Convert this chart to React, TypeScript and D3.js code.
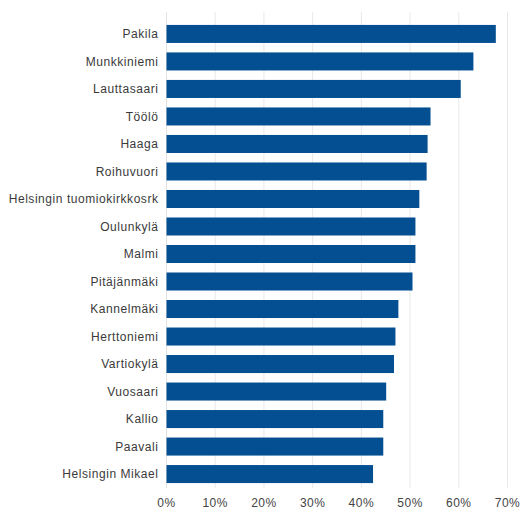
import { useEffect, useRef } from 'react'
import * as d3 from 'd3'

const categories = [
  'Pakila', 'Munkkiniemi', 'Lauttasaari', 'Töölö', 'Haaga', 'Roihuvuori',
  'Helsingin tuomiokirkkosrk', 'Oulunkylä', 'Malmi', 'Pitäjänmäki', 'Kannelmäki',
  'Herttoniemi', 'Vartiokylä', 'Vuosaari', 'Kallio', 'Paavali', 'Helsingin Mikael',
]
const values = [67.6, 63.0, 60.4, 54.2, 53.6, 53.4, 51.9, 51.1, 51.1, 50.5, 47.6, 47.0, 46.7, 45.1, 44.5, 44.5, 42.4]
const ticks = [0, 10, 20, 30, 40, 50, 60, 70]

const W = 529
const H = 525
const FONT = "'Liberation Sans', Arial, sans-serif"

export default function App() {
  const ref = useRef<SVGSVGElement>(null)

  useEffect(() => {
    if (!ref.current) return
    const svg = d3.select(ref.current)
    svg.selectAll('*').remove()

    const left = 166.5
    const top = 20.25
    const bottom = 487.75
    const x = d3.scaleLinear().domain([0, 70]).range([left, 507.5])
    const y = d3.scaleBand<string>().domain(categories).range([top, bottom]).paddingInner(0.345).paddingOuter(0.17)

    // gridlines
    svg.append('g').selectAll('line')
      .data(ticks.slice(1))
      .enter().append('line')
      .attr('x1', d => x(d)).attr('x2', d => x(d))
      .attr('y1', top - 8).attr('y2', bottom)
      .attr('stroke', '#e8e8e8').attr('stroke-width', 1)

    svg.append('line')
      .attr('x1', left).attr('x2', left)
      .attr('y1', top - 8).attr('y2', bottom)
      .attr('stroke', '#e2e2e2').attr('stroke-width', 1)

    svg.append('g').selectAll('rect')
      .data(values)
      .enter().append('rect')
      .attr('x', left)
      .attr('y', (_, i) => y(categories[i])!)
      .attr('width', d => x(d) - left)
      .attr('height', y.bandwidth())
      .attr('fill', '#044f92')

    // category labels
    svg.append('g').selectAll('text')
      .data(categories)
      .enter().append('text')
      .attr('x', left - 8)
      .attr('y', d => y(d)! + y.bandwidth() / 2)
      .attr('dy', '0.35em')
      .attr('text-anchor', 'end')
      .attr('font-family', FONT)
      .attr('font-size', 12)
      .attr('letter-spacing', 0.55)
      .attr('fill', '#3a3a3a')
      .text(d => d)

    // x tick labels
    svg.append('g').selectAll('text')
      .data(ticks)
      .enter().append('text')
      .attr('x', d => x(d))
      .attr('y', 507)
      .attr('text-anchor', 'middle')
      .attr('font-family', FONT)
      .attr('font-size', 12)
      .attr('letter-spacing', 0.5)
      .attr('fill', '#444')
      .text(d => `${d}%`)
  }, [])

  return (
    <svg ref={ref} width={W} height={H}
      style={{ position: 'absolute', left: 0, top: 0, background: '#fff', display: 'block' }} />
  )
}
